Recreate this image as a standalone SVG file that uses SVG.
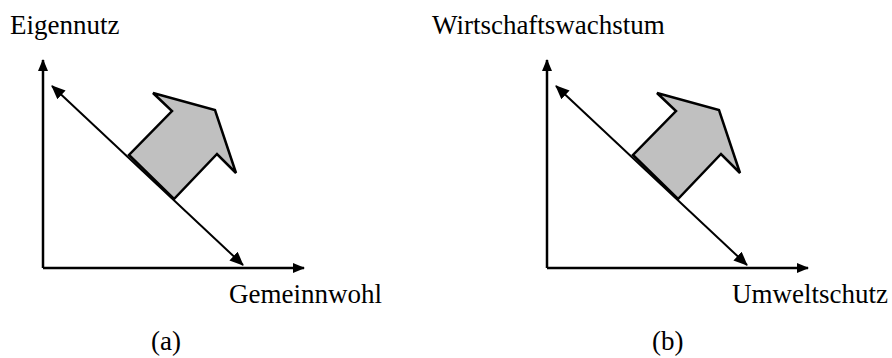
<svg xmlns="http://www.w3.org/2000/svg" width="892" height="358" viewBox="0 0 892 358">
<style>
.lbl{font-family:"Liberation Serif","Times New Roman",serif;font-size:27px;fill:#000}
.axis{stroke:#000;stroke-width:2.5;fill:none}
.diag{stroke:#000;stroke-width:2;fill:none}
.shift{fill:#c0c0c0;stroke:#000;stroke-width:2.5;stroke-linejoin:miter}
</style>
<defs>
<marker id="ah" markerUnits="userSpaceOnUse" markerWidth="12" markerHeight="10" refX="11" refY="5" orient="auto">
<path d="M0,0 L12,5 L0,10 Z" fill="#000"/>
</marker>
<marker id="dh" markerUnits="userSpaceOnUse" markerWidth="14" markerHeight="12" refX="13" refY="6" orient="auto-start-reverse">
<path d="M0,0 L14,6 L0,12 Z" fill="#000"/>
</marker>
</defs>
<g id="connectors">
<line class="axis" x1="43" y1="268" x2="43" y2="60" marker-end="url(#ah)"/>
<line class="axis" x1="43" y1="268" x2="304" y2="268" marker-end="url(#ah)"/>
<line class="diag" x1="52" y1="86" x2="243" y2="265" marker-start="url(#dh)" marker-end="url(#dh)"/>
<line class="axis" x1="547" y1="268" x2="547" y2="60" marker-end="url(#ah)"/>
<line class="axis" x1="547" y1="268" x2="808" y2="268" marker-end="url(#ah)"/>
<line class="diag" x1="556" y1="86" x2="747" y2="265" marker-start="url(#dh)" marker-end="url(#dh)"/>
</g>
<g id="panel-a">
<polygon class="shift" points="129,155 174,199 217,154 236,173 215,110 153,93 172,111"/>
<text class="lbl" x="10" y="34">Eigennutz</text>
<text class="lbl" x="229" y="303">Gemeinnwohl</text>
<text class="lbl" x="151" y="350">(a)</text>
</g>
<g id="panel-b">
<polygon class="shift" points="633,155 678,199 721,154 740,173 719,110 657,93 676,111"/>
<text class="lbl" x="432" y="34">Wirtschaftswachstum</text>
<text class="lbl" x="732" y="303">Umweltschutz</text>
<text class="lbl" x="652" y="350">(b)</text>
</g>
</svg>
